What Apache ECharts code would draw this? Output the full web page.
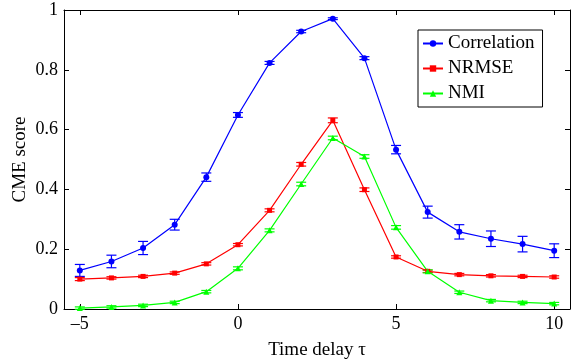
<!DOCTYPE html>
<html><head><meta charset="utf-8">
<script src="https://cdn.jsdelivr.net/npm/echarts@6/dist/echarts.min.js"></script>
<style>html,body{margin:0;padding:0;background:#fff}#c{width:572px;height:360px}</style>
</head><body><div id="c"></div>
<script>
var delays = [-5,-4,-3,-2,-1,0,1,2,3,4,5,6,7,8,9,10];
var corr   = [0.129,0.159,0.204,0.282,0.441,0.649,0.823,0.928,0.971,0.839,0.533,0.324,0.258,0.235,0.217,0.195];
var corrErr= [0.020,0.021,0.022,0.018,0.014,0.008,0.005,0.004,0.003,0.005,0.014,0.020,0.024,0.026,0.026,0.023];
var nrmse  = [0.100,0.104,0.109,0.120,0.151,0.215,0.330,0.484,0.631,0.399,0.174,0.126,0.115,0.111,0.109,0.107];
var nrmseErr=[0.005,0.004,0.004,0.004,0.004,0.004,0.005,0.006,0.008,0.006,0.004,0.004,0.004,0.004,0.004,0.004];
var nmi    = [0.003,0.007,0.012,0.022,0.058,0.136,0.263,0.418,0.572,0.510,0.273,0.126,0.056,0.028,0.022,0.018];
var nmiErr = [0.004,0.004,0.004,0.004,0.004,0.005,0.005,0.006,0.006,0.006,0.006,0.005,0.004,0.004,0.004,0.004];
var xTicks = [-5,0,5,10];
var yTicks = [0,0.2,0.4,0.6,0.8,1];
var names = ['Correlation','NRMSE','NMI'];

var FONT = '"Liberation Serif","Times New Roman",serif';
function pairs(v){ return delays.map(function(x,i){return [x,v[i]];}); }
function errData(v,e){ return delays.map(function(x,i){return [x,v[i]-e[i],v[i]+e[i]];}); }
function errRender(color, hw){
  return function(params, api){
    var x=api.value(0), lo=api.value(1), hi=api.value(2);
    var p1=api.coord([x,lo]), p2=api.coord([x,hi]);
    return {type:'group', children:[
      {type:'line', shape:{x1:p1[0],y1:p1[1],x2:p2[0],y2:p2[1]}, style:{stroke:color,lineWidth:1.2}},
      {type:'line', shape:{x1:p1[0]-hw,y1:p1[1],x2:p1[0]+hw,y2:p1[1]}, style:{stroke:color,lineWidth:1.2}},
      {type:'line', shape:{x1:p2[0]-hw,y1:p2[1],x2:p2[0]+hw,y2:p2[1]}, style:{stroke:color,lineWidth:1.2}}
    ]};
  };
}
var colors=['#0000ff','#ff0000','#00ff00'];
var vals=[corr,nrmse,nmi], errs=[corrErr,nrmseErr,nmiErr];
var symbols=['circle','rect','triangle'], sizes=[6,5,6];
var series=[];
for (var k=0;k<3;k++){
  series.push({type:'custom', name:names[k]+'_err', data:errData(vals[k],errs[k]), renderItem:errRender(colors[k],5),
    encode:{x:0,y:[1,2]}, silent:true, z:2});
}
for (var k=0;k<3;k++){
  series.push({type:'line', name:names[k], data:pairs(vals[k]), symbol:symbols[k], symbolSize:sizes[k], showAllSymbol:true,
    lineStyle:{color:colors[k],width:1.2}, itemStyle:{color:colors[k]}, z:3, animation:false});
}
var axLine={show:true,onZero:false,lineStyle:{color:'#000',width:1}};
var chart=echarts.init(document.getElementById('c'));
chart.setOption({
  animation:false,
  grid:{left:64,right:2,top:10,bottom:51,containLabel:false,outerBoundsMode:'none'},
  legend:{data:names, orient:'vertical', left:418, top:30, width:125, itemWidth:20, itemHeight:8, itemGap:6,
    padding:[4,8,4,4], borderColor:'#000', borderWidth:1, backgroundColor:'#fff',
    textStyle:{fontFamily:FONT,fontSize:19,color:'#000'}},
  xAxis:[
    {type:'value', min:-5.5, max:10.5, position:'bottom', axisLine:axLine, splitLine:{show:false},
     axisTick:{show:true,inside:true,length:5,customValues:xTicks,lineStyle:{color:'#000'}},
     axisLabel:{customValues:xTicks,fontFamily:FONT,fontSize:18,color:'#000',margin:6,
       formatter:function(v){return v<0?'\u2013'+(-v):String(v);}},
     name:'Time delay \u03c4', nameLocation:'middle', nameGap:32, nameMoveOverlap:false, nameTextStyle:{fontFamily:FONT,fontSize:19,color:'#000'}},
    {type:'value', min:-5.5, max:10.5, position:'top', axisLine:axLine, splitLine:{show:false},
     axisTick:{show:true,inside:true,length:5,customValues:xTicks,lineStyle:{color:'#000'}},
     axisLabel:{show:false}}
  ],
  yAxis:[
    {type:'value', min:0, max:1, interval:0.2, position:'left', axisLine:axLine, splitLine:{show:false},
     axisTick:{show:true,inside:true,length:5,lineStyle:{color:'#000'}},
     axisLabel:{fontFamily:FONT,fontSize:18,color:'#000',margin:6,formatter:function(v){return String(+v.toFixed(1));}},
     name:'CME score', nameLocation:'middle', nameGap:34, nameMoveOverlap:false, nameTextStyle:{fontFamily:FONT,fontSize:19,color:'#000'}},
    {type:'value', min:0, max:1, interval:0.2, position:'right', axisLine:axLine, splitLine:{show:false},
     axisTick:{show:true,inside:true,length:5,lineStyle:{color:'#000'}}, axisLabel:{show:false}}
  ],
  series:series
});
</script></body></html>
